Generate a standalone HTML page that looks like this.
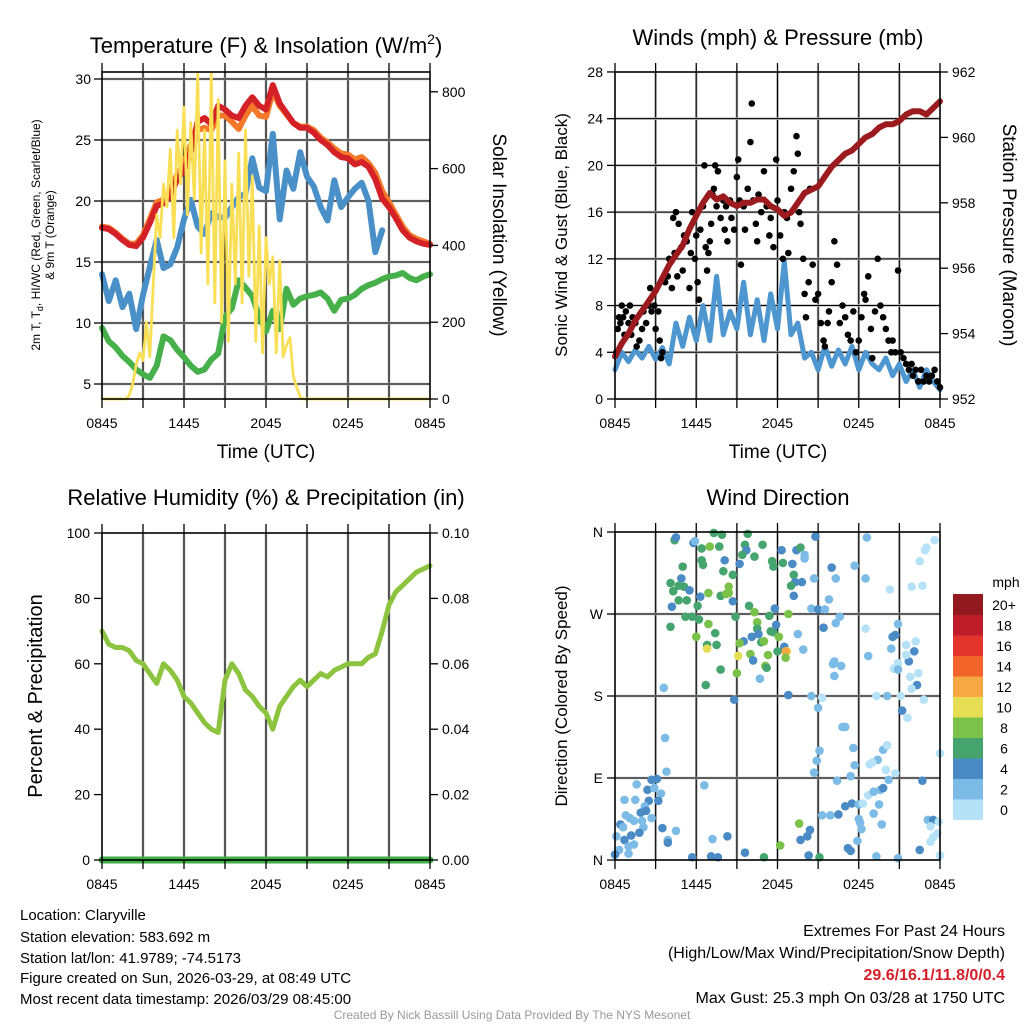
<!DOCTYPE html>
<html><head><meta charset="utf-8"><style>
body{margin:0;background:#fff;}
svg{display:block;font-family:"Liberation Sans",Arial,sans-serif;}
</style></head><body>
<svg id="chart" width="1024" height="1024" viewBox="0 0 1024 1024">
<rect width="1024" height="1024" fill="#fff"/>
<g id="g1"></g>
<g id="g2"></g>
<g id="g3"></g>
<g id="g4"></g>
<text x="266" y="53" font-size="22" text-anchor="middle">Temperature (F) &amp; Insolation (W/m<tspan font-size="14" dy="-9">2</tspan><tspan dy="9">)</tspan></text>
<text x="778" y="45" font-size="22" text-anchor="middle">Winds (mph) &amp; Pressure (mb)</text>
<text x="266" y="505" font-size="22" text-anchor="middle">Relative Humidity (%) &amp; Precipitation (in)</text>
<text x="778" y="505" font-size="22" text-anchor="middle">Wind Direction</text>
<g font-size="12" text-anchor="middle">
<text transform="translate(40,235) rotate(-90)">2m T, T<tspan font-size="9" dy="3">d</tspan><tspan dy="-3">, HI/WC (Red, Green, Scarlet/Blue)</tspan></text>
<text transform="translate(54,235) rotate(-90)">&amp; 9m T (Orange)</text>
</g>
<text transform="translate(493,235) rotate(90)" font-size="19" text-anchor="middle">Solar Insolation (Yellow)</text>
<text transform="translate(567,235) rotate(-90)" font-size="17" text-anchor="middle">Sonic Wind &amp; Gust (Blue, Black)</text>
<text transform="translate(1003,235) rotate(90)" font-size="19" text-anchor="middle">Station Pressure (Maroon)</text>
<text transform="translate(42,696) rotate(-90)" font-size="20" text-anchor="middle">Percent &amp; Precipitation</text>
<text transform="translate(567,696) rotate(-90)" font-size="17" text-anchor="middle">Direction (Colored By Speed)</text>
<text x="266" y="458" font-size="19" text-anchor="middle">Time (UTC)</text>
<text x="778" y="458" font-size="19" text-anchor="middle">Time (UTC)</text>
<g font-size="15">
<text x="20" y="920">Location: Claryville</text>
<text x="20" y="942">Station elevation: 583.692 m</text>
<text x="20" y="963">Station lat/lon: 41.9789; -74.5173</text>
<text x="20" y="983">Figure created on Sun, 2026-03-29, at 08:49 UTC</text>
<text x="20" y="1004">Most recent data timestamp: 2026/03/29 08:45:00</text>
</g>
<g font-size="16" text-anchor="end">
<text x="1005" y="936">Extremes For Past 24 Hours</text>
<text x="1005" y="958">(High/Low/Max Wind/Precipitation/Snow Depth)</text>
<text x="1005" y="980" fill="#d3202a" font-weight="bold">29.6/16.1/11.8/0/0.4</text>
<text x="1005" y="1003">Max Gust: 25.3 mph On 03/28 at 1750 UTC</text>
</g>
<text x="512" y="1019" font-size="12" fill="#999" text-anchor="middle">Created By Nick Bassill Using Data Provided By The NYS Mesonet</text>
</svg>
<script>
// ---- Temperature panel data (half-hourly, hours since 0845 UTC) ----
const tempRed = [17.8,17.7,17.3,16.8,16.4,16.3,17.0,18.2,19.6,19.8,20.4,21.8,22.5,24.0,26.5,26.8,26.3,27.8,27.5,27.0,26.8,27.8,28.5,27.8,27.5,29.5,28.0,27.2,26.4,26.0,26.0,25.6,25.0,24.6,24.0,23.6,23.5,23.0,23.2,22.8,21.8,20.2,19.5,18.6,17.6,17.0,16.7,16.5,16.4];
const tempOrange = [17.9,17.8,17.4,16.9,16.5,16.5,17.2,18.5,19.9,20.1,20.8,22.2,23.0,24.6,25.8,26.0,25.8,27.0,27.0,26.5,25.9,27.0,27.8,27.0,26.9,29.0,27.8,27.1,26.4,26.1,26.1,25.8,25.2,24.8,24.3,23.9,23.8,23.4,23.6,23.1,22.3,20.8,19.9,18.9,17.9,17.2,16.9,16.7,16.5];
const tempBlue = [14.0,11.8,13.5,11.3,12.4,9.5,12.3,14.6,16.8,14.5,14.8,16.2,18.5,20.1,17.9,17.3,19.0,18.7,18.6,19.5,20.3,20.6,23.5,21.1,20.8,25.5,18.5,22.5,21.0,24.0,22.0,21.2,19.5,18.4,21.7,19.5,20.3,21.0,21.5,20.0,15.8,17.6];
const tempGreen = [9.6,8.5,8.0,7.3,6.8,6.2,5.8,5.5,6.5,8.9,8.6,7.8,7.2,6.5,6.0,6.2,7.0,7.5,10.5,11.2,13.5,12.9,12.2,10.5,9.3,11.0,9.5,12.8,11.5,12.0,12.2,12.3,12.5,12.0,11.0,11.9,12.0,12.3,12.8,13.1,13.3,13.6,13.8,13.9,14.1,13.7,13.5,13.8,14.0];
// solar, quarter-hourly
const solar = [0,0,0,0,0,0,0,0,10,40,90,120,100,200,110,300,480,420,560,500,650,420,700,560,760,480,720,520,850,380,700,300,850,250,780,200,620,150,560,300,640,250,700,320,580,150,450,120,420,300,370,120,360,110,140,160,60,30,5,0];
const tempTicks = [5,10,15,20,25,30];
const solarTicks = [0,200,400,600,800];
const timeLabels = ["0845","1445","2045","0245","0845"];
// ---- Wind panel data ----
const windSpeed = [2.5,4.0,3.2,4.2,3.5,4.5,3.4,4.4,3.0,6.5,4.5,7.0,5.0,8.0,5.0,10.5,5.5,7.5,6.0,10.0,5.5,8.5,5.0,9.0,6.0,11.8,5.5,6.5,3.5,4.0,2.5,4.5,2.8,4.2,3.0,4.5,2.5,4.0,3.0,2.5,3.5,2.0,3.0,1.5,2.5,1.0,2.5,1.5,0.8];
const pressure = [953.3,953.7,954.0,954.4,954.7,955.0,955.3,955.7,956.1,956.4,956.7,957.2,957.6,958.0,958.3,958.1,958.2,958.0,957.9,958.0,958.0,958.1,958.1,957.9,957.8,957.6,957.7,958.0,958.3,958.4,958.5,958.8,959.1,959.3,959.5,959.6,959.8,960.0,960.1,960.3,960.4,960.4,960.5,960.7,960.8,960.8,960.7,960.9,961.1];
const gustTime = [0.1,0.2,0.3,0.4,0.5,0.6,0.7,0.8,1,1.1,1.2,1.3,1.5,1.6,1.8,2,2.1,2.3,2.5,2.6,2.7,2.9,3,3.2,3.3,3.4,3.5,3.7,3.9,4,4.2,4.3,4.4,4.5,4.6,4.7,4.9,5,5.1,5.3,5.5,5.6,5.7,5.9,6,6.1,6.2,6.3,6.5,6.6,6.7,6.8,6.9,7,7.1,7.2,7.3,7.4,7.5,7.6,7.8,8,8.1,8.2,8.3,8.5,8.6,8.8,9,9.1,9.2,9.3,9.5,9.6,9.8,10,10.1,10.2,10.4,10.5,10.6,10.8,11,11.2,11.4,11.5,11.7,11.9,12,12.2,12.4,12.5,12.7,12.8,13,13.2,13.4,13.5,13.6,13.7,13.9,14,14.1,14.3,14.4,14.6,14.8,15,15.2,15.4,15.5,15.7,15.8,16,16.2,16.4,16.6,16.8,17,17.2,17.4,17.6,17.8,18,18.2,18.4,18.5,18.7,18.9,19,19.2,19.4,19.6,19.8,20,20.2,20.4,20.5,20.7,20.9,21.1,21.3,21.5,21.7,21.9,22,22.2,22.4,22.6,22.8,23,23.2,23.4,23.6,23.8,24];
const gustSpeed = [4,6,7,6.5,8,7,5.5,7.5,6.5,8,5.5,7,6.5,4.5,5,6,7.5,6.5,8,9.5,7.5,8,6,7.5,5,3.5,4,10,10.5,12,9.5,15.5,12.5,16,10.5,15,13,11,14,13.5,9.5,12.5,16,12,14,10,8.5,14.5,16.5,20,13,11,12.5,13.5,15,17.5,18,20,16.5,19.5,15.5,17,14.5,16.5,13.5,17,15.5,14.5,19,20.5,17,11.5,16.5,14.5,18,22,25.3,17,15,13.5,17.5,16,19.5,16.5,14,15.5,13,20.5,17,14,12,16,15.5,12.5,18,19.5,22.5,21,16,15,12,9,7,10,18,11.5,8.5,9,6.5,5,4.5,6.5,7.5,10,13.5,11.5,6.5,8,7,5.5,5,7.5,4,5,7,9,8.5,10.5,6,3.5,7.5,12,8,7,6,5,4,5,4,11,4,3.5,3,2.5,3,2,2.5,1.5,2.5,1.5,2,1.5,2,2.5,1.5,1];
const windTicks = [0,4,8,12,16,20,24,28];
const pressTicks = [952,954,956,958,960,962];
// ---- Humidity panel data ----
const rh = [70,66,65,65,64,61,60,57,54,60,58,55,50,48,45,42,40,39,55,60,57,52,50,47,45,40,47,50,53,55,53,55,57,56,58,59,60,60,60,62,63,70,78,82,84,86,88,89,90];
const precip = [0,0,0,0,0,0,0,0,0,0,0,0,0,0,0,0,0,0,0,0,0,0,0,0,0];
const rhTicks = [0,20,40,60,80,100];
const precipTicks = ["0.00","0.02","0.04","0.06","0.08","0.10"];
// ---- Wind direction data ----
const dirTime = [4.4,4.5,5.8,5.9,6.4,7.0,7.3,7.9,7.7,9.8,9.6,9.7,9.4,10.9,10.3,9.2,8.1,6.4,6.5,5.0,8.0,8.7,11.6,11.7,12.3,12.4,13.1,13.4,13.7,14.0,14.0,14.8,13.2,13.3,13.8,13.0,13.2,14.7,16.0,16.3,17.7,18.6,18.5,20.3,21.9,22.7,22.5,22.9,23.0,23.6,4.9,4.1,4.7,5.1,5.5,4.3,4.7,5.3,4.2,6.3,6.1,6.9,7.8,8.4,8.4,8.2,8.7,9.9,10.3,11.4,11.8,12.8,5.2,5.7,6.2,4.1,6.0,6.9,7.4,8.9,6.8,7.5,6.8,10.5,10.5,10.6,10.1,9.5,9.2,10.8,11.0,11.5,11.7,11.9,12.1,12.5,12.7,12.6,12.0,12.6,11.3,10.0,10.2,9.1,11.1,11.2,7.8,9.0,10.7,6.7,3.6,13.5,13.9,14.5,15.0,15.5,15.8,16.3,16.6,15.4,16.2,16.1,16.7,16.2,18.7,18.5,20.9,20.7,20.5,20.4,20.9,20.6,20.9,21.7,21.5,22.2,22.1,21.5,21.8,22.4,22.3,21.9,12.8,8.8,14.5,15.3,15.0,19.3,20.1,21.1,22.8,21.2,21.6,16.8,17.0,3.7,15.1,17.6,19.8,20.1,19.4,19.0,18.8,14.9,17.7,14.7,20.0,20.7,24.0,3.8,2.7,3.1,1.6,2.4,2.9,3.4,3.2,2.5,0.7,1.5,2.2,1.9,2.3,2.7,0.8,1.1,1.4,0.4,0.6,2.0,2.1,1.8,0.1,1.2,0.7,1.4,1.0,0.3,0.0,1.0,3.5,3.9,4.5,3.9,6.6,7.2,8.3,7.1,5.7,7.6,9.6,11.0,12.2,13.6,14.4,14.2,13.7,14.3,15.1,15.3,15.9,16.5,17.0,17.5,18.0,18.3,18.7,19.1,19.6,19.8,19.5,20.2,17.4,16.4,18.0,18.1,18.2,19.1,19.7,17.9,17.2,17.4,19.3,20.9,22.5,22.7,23.1,23.5,23.9,23.3,23.8,23.5,23.3,24.0];
const dirDeg = [351,354,348,350,342,344,359,357,344,358,346,340,335,346,333,325,329,329,324,322,317,313,328,322,340,326,325,340,343,335,331,355,313,305,305,301,290,309,321,309,323,354,309,297,300,301,328,340,343,351,309,304,301,300,296,295,285,285,278,289,279,293,290,300,293,292,284,279,272,268,276,270,267,267,264,256,245,259,249,267,236,236,232,261,254,248,245,240,238,239,240,251,250,258,245,234,229,229,229,222,225,226,219,224,213,211,209,205,199,192,189,248,231,276,275,275,286,260,267,255,218,215,213,202,224,254,259,247,245,232,216,210,209,218,236,240,229,225,201,205,192,188,181,176,180,178,167,180,180,180,176,164,156,146,146,134,120,123,121,126,110,107,105,109,104,96,99,95,117,97,88,89,83,77,79,73,65,65,66,66,59,52,54,46,49,46,43,39,36,43,36,30,26,27,22,17,15,11,6,7,35,22,32,19,82,23,26,4,3,3,8,3,16,40,33,26,22,5,3,49,49,50,59,62,61,62,71,75,77,79,61,88,92,87,45,41,34,51,39,21,13,10,4,2,11,87,44,44,42,37,29,25,20,5];
const dirSpeed = [7,5,5,3,7,9,7,7,7,7,7,5,7,7,7,5,5,7,7,7,7,7,7,7,5,7,5,5,7,3,3,5,7,5,5,7,5,3,5,3,3,3,3,1,1,1,1,1,1,1,5,7,7,7,5,7,7,7,5,5,7,9,7,9,9,9,5,7,9,7,5,9,7,7,7,7,9,9,7,7,7,7,11,9,7,5,5,5,9,7,9,7,7,5,9,5,11,13,7,9,9,9,5,11,9,7,7,9,3,7,3,3,3,3,5,3,3,3,3,5,3,3,3,3,3,1,3,5,5,3,1,1,3,5,1,1,5,1,1,1,5,1,5,5,3,1,3,1,3,1,1,5,1,3,3,3,3,3,3,1,3,1,1,3,3,3,1,1,1,3,5,5,3,5,3,3,5,5,3,3,3,5,5,3,3,3,3,5,3,3,3,5,3,5,5,3,3,3,5,3,5,3,3,5,3,3,5,5,5,5,5,7,9,9,5,5,5,5,7,3,3,5,5,5,3,1,1,3,3,5,3,3,3,3,3,3,3,3,3,3,5,5,3,3,5,5,3,5,1,1,1,1,1,1,1,1,1,1];
const dirLabels = ["N","E","S","W","N"];
const cbLabels = ["0","2","4","6","8","10","12","14","16","18","20+"];
const cbColors = ["#b6e2f7","#7cbbe5","#4a8bc5","#46a46e","#7bc24a","#e6df56","#f7a743","#f06429","#e2342a","#be1e2a","#921a1e"];

const NS="http://www.w3.org/2000/svg";
function el(parent,tag,attrs){const e=document.createElementNS(NS,tag);for(const k in attrs)e.setAttribute(k,attrs[k]);parent.appendChild(e);return e;}
function txt(parent,x,y,s,size,anchor){const t=el(parent,"text",{x:x,y:y,"font-size":size,"text-anchor":anchor});t.textContent=s;return t;}

function frame(g,X0,X1,Y0,Y1,hLines,name){
  const grid=el(g,"g",{});
  
  
  for(let i=1;i<8;i++){const x=X0+(X1-X0)*i/8;
    el(grid,"line",{x1:x,x2:x,y1:Y0,y2:Y1,stroke:"#aaa","stroke-width":2.5});
    el(grid,"line",{x1:x,x2:x,y1:Y0,y2:Y1,stroke:"#000","stroke-width":1});}
  hLines.forEach(y=>{el(grid,"line",{x1:X0,x2:X1,y1:y,y2:y,stroke:"#bbb","stroke-width":2.5});
    el(grid,"line",{x1:X0,x2:X1,y1:y,y2:y,stroke:"#000","stroke-width":1});});
}
function border(g,X0,X1,Y0,Y1,name){
  const r=el(g,"rect",{x:X0,y:Y0,width:X1-X0,height:Y1-Y0,fill:"none",stroke:"#000","stroke-width":1.6});
  
  
  for(let i=0;i<=8;i++){const x=X0+(X1-X0)*i/8;
    el(g,"line",{x1:x,x2:x,y1:Y1,y2:Y1+9,stroke:"#000","stroke-width":1.3});
    el(g,"line",{x1:x,x2:x,y1:Y0,y2:Y0-9,stroke:"#000","stroke-width":1.3});}
  timeLabels.forEach((s,i)=>{const t=txt(g,X0+(X1-X0)*i/4,Y1+29,s,14,"middle");
    
    });
}
function path(g,xs,ys,color,w,name){
  let d="";xs.forEach((x,i)=>{d+=(i?"L":"M")+x.toFixed(1)+" "+ys[i].toFixed(1);});
  const p=el(g,"path",{d:d,fill:"none",stroke:color,"stroke-width":w,"stroke-linejoin":"round","stroke-linecap":"round"});
  
  
  return p;
}

// Panel 1
(function(){
  const g=document.getElementById("g1");
  const X0=102,X1=430,Y0=72,Y1=399;
  const xS=t=>X0+(X1-X0)*t/24;
  const yT=v=>79+(30-v)*12.2;
  const yS=w=>399-w*0.384;
  frame(g,X0,X1,Y0,Y1,tempTicks.map(yT),"temperature");
  const half=(a)=>a.map((v,i)=>xS(i*0.5));
  path(g,half(tempOrange),tempOrange.map(yT),"#f5782a",6,"series-9m-temp");
  path(g,half(tempRed),tempRed.map(yT),"#d42127",6,"series-2m-temp");
  path(g,half(tempBlue),tempBlue.map(yT),"#4a90c8",6,"series-wind-chill");
  path(g,half(tempGreen),tempGreen.map(yT),"#46b04a",6,"series-dewpoint");
  const sx=solar.map((v,i)=>xS(i*0.25)).concat([xS(24)]);
  const sy=solar.map(v=>Math.max(Y0,yS(v))).concat([yS(0)]);
  path(g,sx,sy,"#f8df55",2.8,"series-solar");
  border(g,X0,X1,Y0,Y1,"temperature");
  tempTicks.forEach(v=>{const y=yT(v);el(g,"line",{x1:X0-8,x2:X0,y1:y,y2:y,stroke:"#000","stroke-width":1.3});
    const t=txt(g,X0-11,y+5,String(v),14,"end");
    
    });
  solarTicks.forEach(v=>{const y=yS(v);el(g,"line",{x1:X1,x2:X1+8,y1:y,y2:y,stroke:"#000","stroke-width":1.3});
    const t=txt(g,X1+12,y+5,String(v),14,"start");
    
    });
})();

// Panel 2
(function(){
  const g=document.getElementById("g2");
  const X0=615,X1=940,Y0=72,Y1=399;
  const xS=t=>X0+(X1-X0)*t/24;
  const yW=m=>399-m*11.68;
  const yP=p=>399-(p-952)*32.7;
  frame(g,X0,X1,Y0,Y1,windTicks.slice(1,7).map(yW),"wind");
  path(g,windSpeed.map((v,i)=>xS(i*0.5)),windSpeed.map(yW),"#4d96d0",5,"series-sonic-wind");
  gustTime.forEach((t,i)=>{const c=el(g,"circle",{cx:xS(t),cy:yW(gustSpeed[i]),r:3.3,fill:"#000"});
    
    });
  path(g,pressure.map((v,i)=>xS(i*0.5)),pressure.map(yP),"#9b1b1e",6,"series-pressure");
  border(g,X0,X1,Y0,Y1,"wind");
  windTicks.forEach(v=>{const y=yW(v);el(g,"line",{x1:X0-8,x2:X0,y1:y,y2:y,stroke:"#000","stroke-width":1.3});
    const t=txt(g,X0-12,y+5,String(v),14,"end");
    
    });
  pressTicks.forEach(v=>{const y=yP(v);el(g,"line",{x1:X1,x2:X1+8,y1:y,y2:y,stroke:"#000","stroke-width":1.3});
    const t=txt(g,X1+12,y+5,String(v),14,"start");
    
    });
})();

// Panel 3
(function(){
  const g=document.getElementById("g3");
  const X0=102,X1=430,Y0=533,Y1=860;
  const xS=t=>X0+(X1-X0)*t/24;
  const yR=r=>860-r*3.27;
  const yPr=p=>860-p*3270;
  frame(g,X0,X1,Y0,Y1,[],"humidity");
  path(g,rh.map((v,i)=>xS(i*0.5)),rh.map(yR),"#8cc43f",5,"series-humidity");
  path(g,precip.map((v,i)=>xS(i)),precip.map(yPr),"#3fae49",7,"series-precipitation");
  border(g,X0,X1,Y0,Y1,"humidity");
  rhTicks.forEach(v=>{const y=yR(v);el(g,"line",{x1:X0-8,x2:X0,y1:y,y2:y,stroke:"#000","stroke-width":1.3});
    const t=txt(g,X0-12,y+5,String(v),14,"end");
    
    });
  precipTicks.forEach(v=>{const y=yPr(parseFloat(v));el(g,"line",{x1:X1,x2:X1+8,y1:y,y2:y,stroke:"#000","stroke-width":1.3});
    const t=txt(g,X1+12,y+5,v,14,"start");
    
    });
})();

// Panel 4
(function(){
  const g=document.getElementById("g4");
  const X0=615,X1=940,Y0=532,Y1=860;
  const xS=t=>X0+(X1-X0)*t/24;
  const yD=d=>Y1-(Y1-Y0)*d/360;
  frame(g,X0,X1,Y0,Y1,[90,180,270].map(yD),"direction");
  const col=s=>cbColors[Math.min(10,Math.floor(s/2))];
  dirTime.forEach((t,i)=>{const c=el(g,"circle",{cx:xS(t),cy:yD(dirDeg[i]),r:4.3,fill:col(dirSpeed[i])});
    
    });
  border(g,X0,X1,Y0,Y1,"direction");
  dirLabels.forEach((s,i)=>{const y=yD(i*90);el(g,"line",{x1:X0-8,x2:X0,y1:y,y2:y,stroke:"#000","stroke-width":1.3});
    const t=txt(g,X0-12,y+5,s,14,"end");
    
    });
  const cb=el(g,"g",{});
  
  
  const top=594,h=20.5;
  cbColors.forEach((c,i)=>{el(cb,"rect",{x:953,y:top+(10-i)*h,width:30,height:h+0.5,fill:c});});
  cbLabels.forEach((s,i)=>{txt(cb,1004,top+(10-i)*h+16,s,14,"middle");});
  txt(cb,1006,587,"mph",14,"middle");
})();
</script>
</body></html>
